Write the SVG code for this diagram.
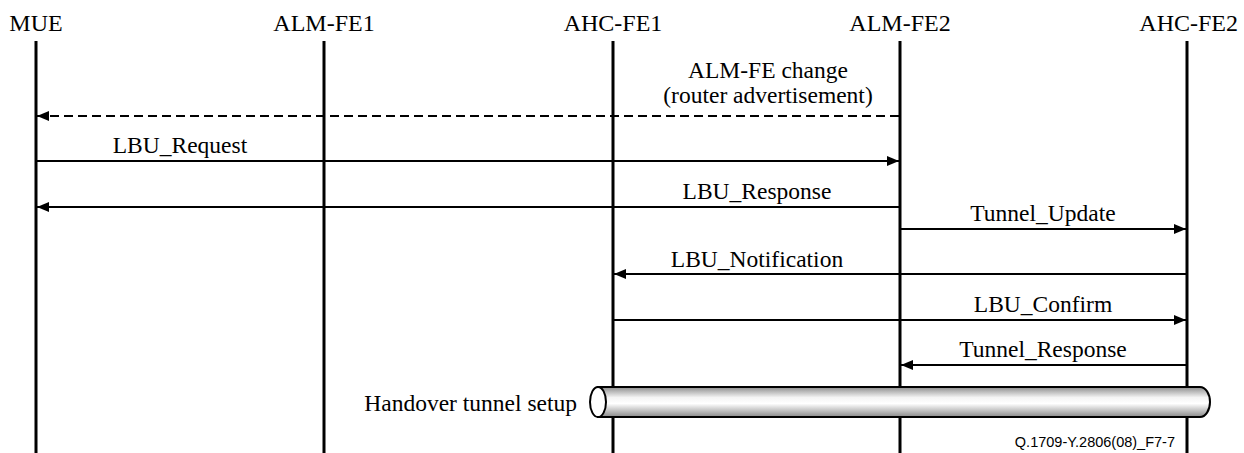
<svg xmlns="http://www.w3.org/2000/svg" width="1244" height="453" viewBox="0 0 1244 453">
<style>
.hdr{font-family:"Liberation Serif",serif;font-size:24px;fill:#000;text-anchor:middle}
.lbl{font-family:"Liberation Serif",serif;font-size:23.5px;fill:#000;text-anchor:middle}
.life{stroke:#000;stroke-width:3}
.msg{stroke:#000;stroke-width:2;fill:none}
.dash{stroke-dasharray:9,5}
.foot{font-family:"Liberation Sans",sans-serif;font-size:14.5px;fill:#000;text-anchor:end}
</style>
<defs>
<marker id="ah" viewBox="0 0 12 10" refX="12" refY="5" markerWidth="12" markerHeight="10" markerUnits="userSpaceOnUse" orient="auto">
<path d="M0,0 L12,5 L0,10 Z" fill="#000"/>
</marker>
<linearGradient id="tube" x1="0" y1="0" x2="0" y2="1">
<stop offset="0" stop-color="#8c8c8c"/>
<stop offset="0.35" stop-color="#f4f4f4"/>
<stop offset="0.55" stop-color="#ffffff"/>
<stop offset="1" stop-color="#8a8a8a"/>
</linearGradient>
</defs>
<g id="MUE"><text class="hdr" x="36" y="31">MUE</text><line class="life" x1="36" y1="41" x2="36" y2="453"/></g>
<g id="ALM-FE1"><text class="hdr" x="324" y="31">ALM-FE1</text><line class="life" x1="324" y1="41" x2="324" y2="453"/></g>
<g id="AHC-FE1"><text class="hdr" x="613" y="31">AHC-FE1</text><line class="life" x1="613" y1="41" x2="613" y2="453"/></g>
<g id="ALM-FE2"><text class="hdr" x="900" y="31">ALM-FE2</text><line class="life" x1="900" y1="41" x2="900" y2="453"/></g>
<g id="AHC-FE2"><text class="hdr" x="1238" y="31" style="text-anchor:end">AHC-FE2</text><line class="life" x1="1187" y1="41" x2="1187" y2="453"/></g>
<g id="tunnel">
<path d="M598,387 L1200,387 A10,15 0 0 1 1200,417 L598,417 Z" fill="url(#tube)" stroke="#000" stroke-width="2"/>
<ellipse cx="598" cy="402" rx="8" ry="15" fill="#fff" stroke="#000" stroke-width="2"/>
<text class="lbl" x="577" y="411" style="text-anchor:end">Handover tunnel setup</text>
</g>
<g id="connectors">
<line class="msg dash" x1="899" y1="116" x2="37" y2="116" marker-end="url(#ah)"/>
<text class="lbl" x="768" y="78">ALM-FE change</text>
<text class="lbl" x="768" y="103">(router advertisement)</text>
<line class="msg" x1="37" y1="161" x2="899" y2="161" marker-end="url(#ah)"/>
<text class="lbl" x="180" y="153">LBU_Request</text>
<line class="msg" x1="899" y1="207" x2="37" y2="207" marker-end="url(#ah)"/>
<text class="lbl" x="757" y="199">LBU_Response</text>
<line class="msg" x1="901" y1="229" x2="1186" y2="229" marker-end="url(#ah)"/>
<text class="lbl" x="1043" y="221">Tunnel_Update</text>
<line class="msg" x1="1186" y1="274" x2="614" y2="274" marker-end="url(#ah)"/>
<text class="lbl" x="757" y="267">LBU_Notification</text>
<line class="msg" x1="614" y1="320" x2="1186" y2="320" marker-end="url(#ah)"/>
<text class="lbl" x="1043" y="312">LBU_Confirm</text>
<line class="msg" x1="1186" y1="365" x2="901" y2="365" marker-end="url(#ah)"/>
<text class="lbl" x="1043" y="357">Tunnel_Response</text>
</g>
<text class="foot" x="1175" y="447">Q.1709-Y.2806(08)_F7-7</text>
</svg>
